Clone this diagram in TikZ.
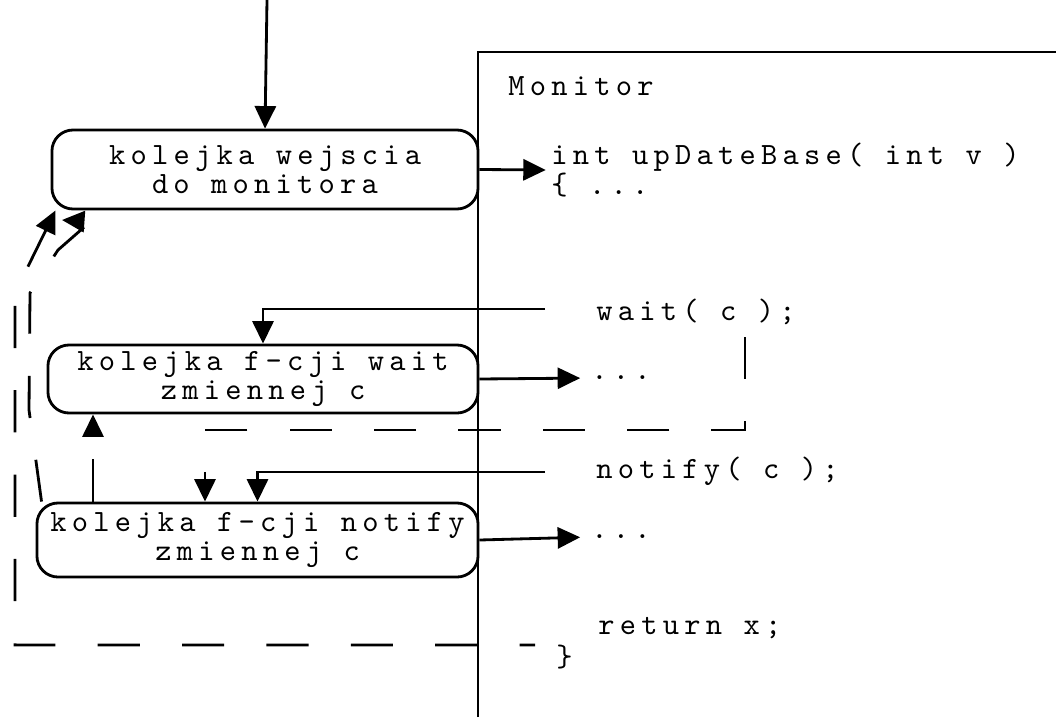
\documentclass[tikz,border=0pt]{standalone}
\usepackage{fontspec}
\usetikzlibrary{arrows.meta}
\newfontfamily\codefont{lmmono10-regular.otf}[LetterSpace=17]
\tikzset{
  queue/.style={draw,rounded corners=15pt,align=center,inner sep=0pt,
    font=\codefont\fontsize{22}{21}\selectfont},
  codetext/.style={anchor=west,inner sep=0pt,align=left,
    font=\codefont\fontsize{22}{21}\selectfont},
  arr/.style={-{Triangle[length=16pt,width=15pt]}},
  retline/.style={arr,dash pattern=on 30pt off 30pt}
}
\begin{document}
\begin{tikzpicture}[x=0.025cm,y=-0.025cm,line width=2pt]
  \useasboundingbox (0,0) rectangle (1056,717);
  % kolejki
  \node[queue,minimum width=10.65cm,minimum height=1.975cm] (entry) at (265,169.5) {kolejka wejscia\\do monitora};
  \node[queue,minimum width=10.75cm,minimum height=1.7cm] (waitq) at (263,379) {kolejka f-cji wait\\zmiennej c};
  \node[queue,minimum width=11.025cm,minimum height=1.85cm] (notifyq) at (257.5,540) {kolejka f-cji notify\\zmiennej c};
  % monitor
  \draw (478,717) -- (478,52) -- (1056,52);
  \node[codetext] (title) at (507,86) {Monitor};
  \node[codetext] (head) at (550,170) {int upDateBase( int v )\\\{ ...};
  \node[codetext] (waitc) at (595,312) {wait( c );};
  \node[codetext] (dots1) at (590,378) {...};
  \node[codetext] (notifyc) at (595,471) {notify( c );};
  \node[codetext] (dots2) at (590,537) {...};
  \node[codetext] (ret) at (597,628) {return x;};
  \node[codetext] (close) at (555,657) {\}};
  % wolne konce
  \coordinate (top) at (267,0);
  \coordinate (waitfrom) at (545,309);
  \coordinate (notifyfrom) at (545,472);
  \coordinate (waitmark) at (745,337);
  \coordinate (waitbend) at (745,430);
  \coordinate (retfrom) at (535,645);
  \coordinate (upx) at (93,0);
  \coordinate (outx) at (15,645);
  \coordinate (outy) at (15,293);
  \coordinate (inlow) at (29,410);
  \coordinate (inup) at (30,293);
  \coordinate (inmid) at (58,250);
  \coordinate (inbend) at (90,222);
  \coordinate (intip) at (62,220);
  % polaczenia
  \draw[arr] (top) -- (entry.north);
  \draw[arr,shorten >=3pt] (entry.east) -- (head.west);
  \draw[arr] (waitfrom) -| (waitq.north);
  \draw[arr,shorten >=7pt] (waitq.east) -- (dots1.west);
  \draw[arr] (notifyfrom) -| (notifyq.north);
  \draw[arr,shorten >=7pt] (notifyq.east) -- (dots2.west);
  \draw[retline] (waitmark) -- (waitbend) -| ([xshift=-1.3125cm]notifyq.north);
  \draw[retline] (notifyq.north -| upx) -- (waitq.south -| upx);
  \draw[retline,dash phase=19pt] (retfrom) -- (outx) -- (outy) -- ([xshift=0.125cm]entry.south west);
  \draw[retline] ([xshift=0.15cm]notifyq.north west) -- (inlow) -- (inup) -- (inmid) -- (inbend) -- (intip);
\end{tikzpicture}
\end{document}
